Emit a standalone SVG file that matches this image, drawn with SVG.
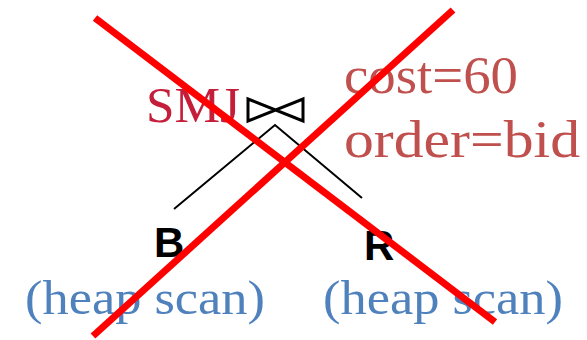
<svg xmlns="http://www.w3.org/2000/svg" width="587" height="340" viewBox="0 0 587 340">
<style>
.serif{font-family:"Liberation Serif","Times New Roman",serif}
.edge{stroke:#000;stroke-width:2;fill:none}
.cross{stroke:#FF0000;stroke-width:7;stroke-linecap:butt}
.scan{fill:#4F81BD;font-size:49px}
</style>
<rect width="587" height="340" fill="#fff"/>
<g id="connectors">
<path class="edge" d="M174,209 L275,125 L362,198"/>
</g>
<g id="join">
<text class="serif" x="146" y="122" font-size="51" fill="#C41E3A" textLength="94" lengthAdjust="spacingAndGlyphs">SMJ</text>
<path d="M248,99 L303,121 L303,99 L248,121 Z" fill="none" stroke="#000" stroke-width="3" stroke-linejoin="miter"/>
<text class="serif" x="344" y="93" font-size="52" fill="#C0504D" textLength="174" lengthAdjust="spacingAndGlyphs">cost=60</text>
<text class="serif" x="344" y="157" font-size="52" fill="#C0504D" textLength="236" lengthAdjust="spacingAndGlyphs">order=bid</text>
</g>
<g id="B">
<text x="154" y="257" font-family="Liberation Sans, Arial, sans-serif" font-weight="bold" font-size="42" fill="#000">B</text>
<text class="serif scan" x="25" y="314" textLength="240" lengthAdjust="spacingAndGlyphs">(heap scan)</text>
</g>
<g id="R">
<text x="364" y="260" font-family="Liberation Sans, Arial, sans-serif" font-weight="bold" font-size="42" fill="#000">R</text>
<text class="serif scan" x="323" y="314" textLength="240" lengthAdjust="spacingAndGlyphs">(heap scan)</text>
</g>
<g id="cross">
<line class="cross" x1="95" y1="18" x2="495" y2="322"/>
<line class="cross" x1="453" y1="10" x2="93" y2="336"/>
</g>
</svg>
